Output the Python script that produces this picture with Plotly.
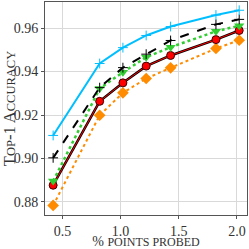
import plotly.graph_objects as go

x_vals = [0.42, 0.82, 1.02, 1.22, 1.43, 1.82, 2.02]
cyan_vals = [0.9106, 0.9437, 0.9510, 0.9566, 0.9607, 0.9660, 0.9682]
black_vals = [0.9003, 0.9326, 0.9418, 0.9480, 0.9543, 0.9617, 0.9640]
green_vals = [0.8896, 0.9322, 0.9397, 0.9466, 0.9512, 0.9585, 0.9611]
red_vals = [0.8877, 0.9263, 0.9348, 0.9425, 0.9474, 0.9547, 0.9589]
orange_vals = [0.8784, 0.9199, 0.9302, 0.9368, 0.9417, 0.9506, 0.9544]
x_ticks = [0.5, 1.0, 1.5, 2.0]
y_ticks = [0.88, 0.90, 0.92, 0.94, 0.96]

FONT = "Liberation Serif"
fig = go.Figure()
fig.add_trace(go.Scatter(x=x_vals, y=orange_vals, mode="lines+markers",
    line=dict(color="#ff8c00", width=2, dash="dot"),
    marker=dict(symbol="diamond", size=9, color="#ff8c00")))
fig.add_trace(go.Scatter(x=x_vals, y=red_vals, mode="lines",
    line=dict(color="black", width=2.5)))
fig.add_trace(go.Scatter(x=x_vals, y=red_vals, mode="lines+markers",
    line=dict(color="red", width=1),
    marker=dict(symbol="circle", size=8, color="red", line=dict(color="#400000", width=1))))
fig.add_trace(go.Scatter(x=x_vals, y=green_vals, mode="lines+markers",
    line=dict(color="#32cd32", width=2.5, dash="dot"),
    marker=dict(symbol="triangle-down", size=9, color="#32cd32")))
fig.add_trace(go.Scatter(x=x_vals, y=black_vals, mode="lines+markers",
    line=dict(color="black", width=2, dash="dash"),
    marker=dict(symbol="cross-thin", size=7, color="black", line=dict(color="black", width=1))))
fig.add_trace(go.Scatter(x=x_vals, y=cyan_vals, mode="lines+markers",
    line=dict(color="#00bfff", width=2),
    marker=dict(symbol="cross-thin", size=7, color="#00bfff", line=dict(color="#00bfff", width=1))))

axis_common = dict(showgrid=True, gridcolor="#d9d9d9", gridwidth=1, showline=True,
    linecolor="#555555", linewidth=1, mirror=True, ticks="outside", ticklen=3,
    tickcolor="#555555", zeroline=False, tickfont=dict(family=FONT, size=14, color="#333333"))

fig.update_layout(
    width=249, height=249, margin=dict(l=45, r=2, t=2, b=34, autoexpand=False),
    paper_bgcolor="white", plot_bgcolor="white", showlegend=False,
    xaxis=dict(range=[0.35, 2.087], tickvals=x_ticks, ticktext=["0.5", "1.0", "1.5", "2.0"],
        title=dict(text="% <span style='font-size:12px'>POINTS PROBED</span>",
                   font=dict(family=FONT, size=14, color="#333333"), standoff=1),
        **axis_common),
    yaxis=dict(range=[0.874, 0.972], tickvals=y_ticks, ticktext=["0.88", "0.90", "0.92", "0.94", "0.96"],
        title=dict(text="T<span style='font-size:12.5px'>OP</span>-1 A<span style='font-size:12.5px'>CCURACY</span>",
                   font=dict(family=FONT, size=16.5, color="#333333"), standoff=4),
        **axis_common),
)
fig.write_html("out.html", config={"displayModeBar": False},
               post_script="document.body.style.margin='0';document.body.style.overflow='hidden';")
